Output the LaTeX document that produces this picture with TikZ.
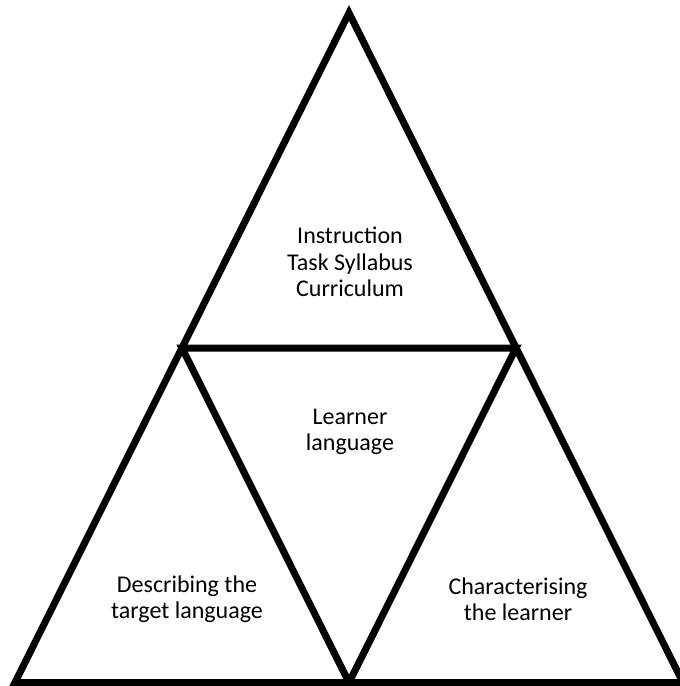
\documentclass[tikz,border=0pt]{standalone}
\usepackage{fontspec}
\setmainfont{Carlito}
\usetikzlibrary{positioning}

\begin{document}
\begin{tikzpicture}[x=1pt, y=-1pt,
        Edge/.style={draw=black, line width=7pt},
        Label/.style={align=center, font=\fontsize{24}{26.5}\selectfont, inner sep=0pt},
    ]
        \useasboundingbox (0,0) rectangle (680,686);
        %Corners
        \coordinate (Top) at (349,13);
        \coordinate (Left) at (15,682.5);
        \coordinate (Right) at (683,682.5);
        \coordinate (Mid) at (349,682.5);
        \coordinate (MidL) at (182,348);
        \coordinate (MidR) at (516,348);

        %Nodes
        \node[Label] (Instruction) at (350,262) {Instruction\\Task Syllabus\\Curriculum};
        \node[Label] (Learner) at (350,432) {Learner\\language};
        \node[Label] (Describing) at (187,599) {Describing the\\target language};
        \node[Label] (Characterising) at (518,599) {Characterising\\the learner};

        %Lines
        \draw[Edge] (Top) -- (Left) -- (Right) -- cycle;
        \draw[Edge] (MidL) -- (MidR) -- (Mid) -- cycle;
    \end{tikzpicture}
\end{document}
